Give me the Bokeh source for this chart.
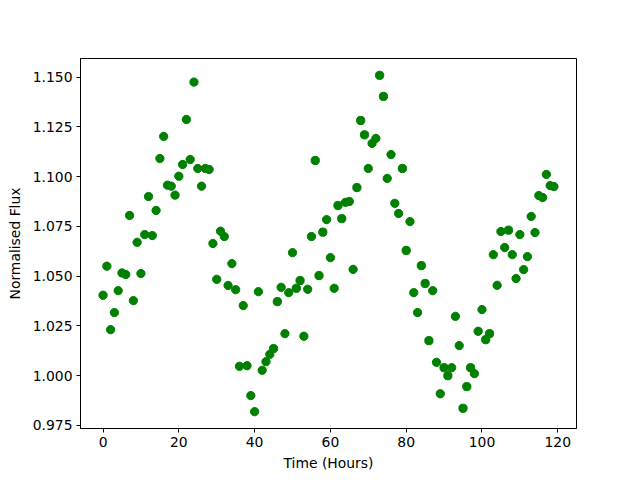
from bokeh.plotting import figure
from bokeh.embed import file_html
from bokeh.resources import INLINE
from bokeh.models import Range1d, NumeralTickFormatter, FixedTicker

time_hours = list(range(120))
flux = [
    1.0404, 1.0550, 1.0231, 1.0317, 1.0427, 1.0516, 1.0508, 1.0805, 1.0377, 1.0670,
    1.0513, 1.0709, 1.0900, 1.0704, 1.0830, 1.1091, 1.1202, 1.0957, 1.0952, 1.0907,
    1.1002, 1.1061, 1.1287, 1.1086, 1.1475, 1.1041, 1.0952, 1.1041, 1.1036, 1.0664,
    1.0484, 1.0726, 1.0699, 1.0453, 1.0563, 1.0432, 1.0047, 1.0352, 1.0050, 0.9900,
    0.9819, 1.0422, 1.0027, 1.0070, 1.0107, 1.0136, 1.0372, 1.0444, 1.0211, 1.0417,
    1.0618, 1.0439, 1.0478, 1.0198, 1.0434, 1.0699, 1.1081, 1.0503, 1.0721, 1.0784,
    1.0593, 1.0439, 1.0855, 1.0789, 1.0871, 1.0875, 1.0534, 1.0945, 1.1282, 1.1210,
    1.1041, 1.1167, 1.1192, 1.1509, 1.1403, 1.0991, 1.1111, 1.0866, 1.0815, 1.1041,
    1.0629, 1.0774, 1.0417, 1.0317, 1.0553, 1.0463, 1.0176, 1.0427, 1.0067, 0.9909,
    1.0040, 1.0000, 1.0040, 1.0298, 1.0151, 0.9836, 0.9945, 1.0040, 1.0010, 1.0223,
    1.0332, 1.0181, 1.0211, 1.0608, 1.0454, 1.0724, 1.0644, 1.0731, 1.0608, 1.0488,
    1.0709, 1.0533, 1.0598, 1.0800, 1.0719, 1.0905, 1.0895, 1.1011, 1.0955, 1.0950,
]
x_ticks = [0, 20, 40, 60, 80, 100, 120]
y_ticks = [0.975, 1.000, 1.025, 1.050, 1.075, 1.100, 1.125, 1.150]

xmin, xmax = min(time_hours), max(time_hours)
ymin, ymax = min(flux), max(flux)
xpad = (xmax - xmin) * 0.05
ypad = (ymax - ymin) * 0.05

p = figure(
    output_backend="svg", toolbar_location=None,
    frame_width=496, frame_height=370,
    min_border_left=80, min_border_right=56, min_border_top=58, min_border_bottom=44,
    x_range=Range1d(xmin - xpad, xmax + xpad),
    y_range=Range1d(ymin - ypad, ymax + ypad),
)
p.background_fill_color = "white"
p.border_fill_color = "white"
p.outline_line_color = "black"
p.outline_line_width = 1
p.xgrid.grid_line_color = None
p.ygrid.grid_line_color = None

p.scatter(time_hours, flux, size=8.3, fill_color="#008000", line_color="#008000")

for ax in (p.xaxis[0], p.yaxis[0]):
    ax.axis_line_color = "black"
    ax.major_tick_line_color = "black"
    ax.minor_tick_line_color = None
    ax.major_tick_in = 0
    ax.major_tick_out = 4
    ax.major_label_standoff = 4
    ax.major_label_text_font = "DejaVu Sans"
    ax.major_label_text_font_size = "13.9px"
    ax.major_label_text_color = "black"
    ax.axis_label_text_font = "DejaVu Sans"
    ax.axis_label_text_font_size = "13.9px"
    ax.axis_label_text_font_style = "normal"
    ax.axis_label_text_color = "black"
    ax.axis_label_standoff = 5

p.yaxis[0].axis_label_standoff = 7
p.xaxis[0].ticker = FixedTicker(ticks=x_ticks)
p.yaxis[0].ticker = FixedTicker(ticks=y_ticks)
p.yaxis[0].formatter = NumeralTickFormatter(format="0.000")
p.xaxis[0].axis_label = "Time (Hours)"
p.yaxis[0].axis_label = "Normalised Flux"

open("out.html", "w").write(file_html(p, INLINE))
